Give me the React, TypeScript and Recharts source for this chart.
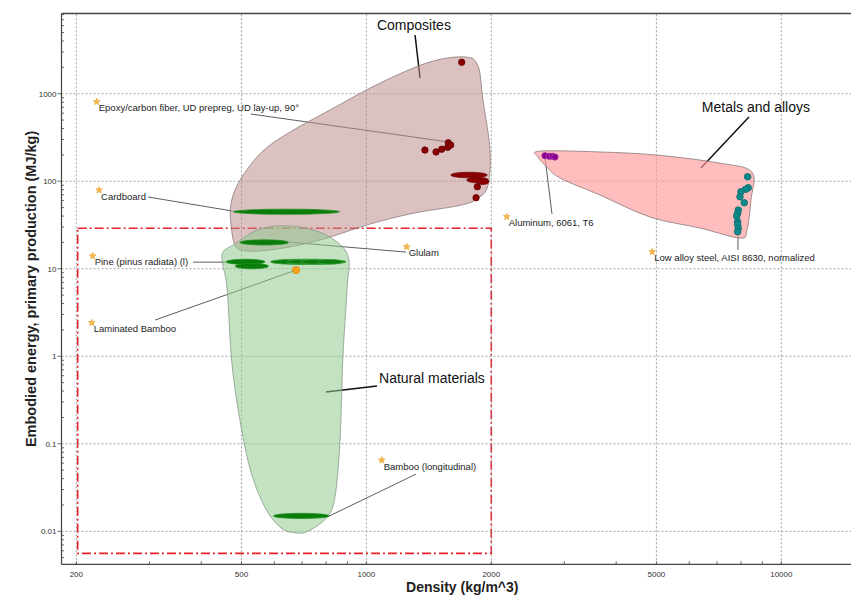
import React from 'react';
import { ScatterChart, Scatter, XAxis, YAxis, ReferenceLine, ReferenceArea } from 'recharts';

// axes
const xDomain = [184.2, 14720];
const yDomain = [0.0042, 8250];
const xMajorTicks = [200, 500, 1000, 2000, 5000, 10000];
const xMinorTicks = [300, 400, 600, 700, 800, 900, 3000, 4000, 6000, 7000, 8000, 9000];
const yMajorTicks = [0.01, 0.1, 1, 10, 100, 1000];
const yDecades = [0.001, 0.01, 0.1, 1, 10, 100, 1000];
const yMultipliers = [2, 3, 4, 5, 6, 7, 8, 9];

// material family envelopes (density kg/m^3, embodied energy MJ/kg)
const compositesEnvelope = [
  { x: 1729, y: 2627 }, { x: 1858, y: 2073 }, { x: 1910, y: 847 }, { x: 1986, y: 227 },
  { x: 1964, y: 90 }, { x: 1858, y: 64 }, { x: 1681, y: 53 }, { x: 1295, y: 43 },
  { x: 1020, y: 32.4 }, { x: 817, y: 23 }, { x: 692, y: 18.7 }, { x: 586, y: 16.4 },
  { x: 524, y: 15.9 }, { x: 485, y: 17.7 }, { x: 472, y: 31.6 }, { x: 472, y: 56 },
  { x: 496, y: 103 }, { x: 560, y: 216 }, { x: 655, y: 365 }, { x: 817, y: 651 },
  { x: 1079, y: 1325 }, { x: 1423, y: 2303 },
];
const metalsEnvelope = [
  { x: 2620, y: 221 }, { x: 3655, y: 216 }, { x: 5015, y: 199 }, { x: 7114, y: 161 },
  { x: 8496, y: 127 }, { x: 8449, y: 61 }, { x: 8264, y: 27.7 }, { x: 7949, y: 22.4 },
  { x: 6367, y: 29.2 }, { x: 4825, y: 39 }, { x: 3655, y: 69.6 }, { x: 2928, y: 109 },
  { x: 2694, y: 153 }, { x: 2592, y: 189 },
];
const naturalEnvelope = [
  { x: 451, y: 15.5 }, { x: 482, y: 19.2 }, { x: 539, y: 27 }, { x: 609, y: 30.8 },
  { x: 711, y: 29.2 }, { x: 817, y: 23 }, { x: 903, y: 14 }, { x: 898, y: 5.71 },
  { x: 878, y: 0.979 }, { x: 864, y: 0.11 }, { x: 840, y: 0.0246 }, { x: 804, y: 0.0145 },
  { x: 731, y: 0.0103 }, { x: 681, y: 0.00954 }, { x: 619, y: 0.0112 }, { x: 563, y: 0.021 },
  { x: 516, y: 0.0705 }, { x: 477, y: 0.643 }, { x: 462, y: 5.71 }, { x: 451, y: 11 },
];

// range bubbles: low/high density at one energy value
const naturalRanges = [
  { lo: 478, hi: 861, y: 44.8 },
  { lo: 496, hi: 649, y: 20 },
  { lo: 459, hi: 570, y: 12 },
  { lo: 483, hi: 581, y: 10.7 },
  { lo: 588, hi: 893, y: 12 },
  { lo: 597, hi: 814, y: 0.015 },
];
const pineChainRanges = [
  { lo: 588, hi: 773, y: 12 },
  { lo: 643, hi: 787, y: 12 },
  { lo: 692, hi: 832, y: 12 },
  { lo: 759, hi: 880, y: 12 },
];
const compositeRanges = [
  { lo: 1597, hi: 1956, y: 117.7 },
  { lo: 1745, hi: 1967, y: 103.2 },
  { lo: 1848, hi: 1975, y: 98.7 },
];

// individual records
const compositePoints = [
  { x: 1384, y: 227 }, { x: 1472, y: 216 }, { x: 1519, y: 232 }, { x: 1570, y: 244 },
  { x: 1575, y: 275 }, { x: 1597, y: 259 }, { x: 1697, y: 2285 }, { x: 1851, y: 86.5 },
  { x: 1838, y: 64.8 },
];
const aluminumPoints = [
  { x: 2694, y: 195.6 }, { x: 2759, y: 192.6 }, { x: 2806, y: 192.6 }, { x: 2848, y: 189 },
];
const steelPoints = [
  { x: 8296, y: 112.5 }, { x: 8324, y: 84.3 }, { x: 8204, y: 80.8 }, { x: 7993, y: 75.9 },
  { x: 7949, y: 66.5 }, { x: 8140, y: 56.8 }, { x: 7874, y: 46.9 }, { x: 7848, y: 43 },
  { x: 7805, y: 40 }, { x: 7848, y: 34.4 }, { x: 7848, y: 32.2 }, { x: 7874, y: 29 },
  { x: 7848, y: 26.5 },
];
const highlightPoints = [{ x: 677, y: 9.66 }];

// labels
const annotations = [
  { name: 'Epoxy/carbon fiber, UD prepreg, UD lay-up, 90°', x: 224, y: 810 },
  { name: 'Cardboard', x: 226.9, y: 79.3 },
  { name: 'Pine (pinus radiata) (l)', x: 219, y: 14 },
  { name: 'Laminated Bamboo', x: 217.8, y: 2.415 },
  { name: 'Glulam', x: 1251, y: 17.8 },
  { name: 'Aluminum, 6061, T6', x: 2179, y: 39.3 },
  { name: 'Low alloy steel, AISI 8630, normalized', x: 4887, y: 15.6 },
  { name: 'Bamboo (longitudinal)', x: 1089, y: 0.0651 },
];
const annotationLeaders = [
  [{ x: 527, y: 586 }, { x: 1561, y: 282.8 }],
  [{ x: 297.8, y: 66 }, { x: 477, y: 45.6 }],
  [{ x: 382, y: 11.9 }, { x: 459, y: 11.9 }],
  [{ x: 309.6, y: 2.593 }, { x: 677, y: 9.66 }],
  [{ x: 647, y: 20.2 }, { x: 1246, y: 15.5 }],
  [{ x: 2694, y: 189 }, { x: 2801, y: 42.2 }],
  [{ x: 7861, y: 27.7 }, { x: 7861, y: 16.4 }],
  [{ x: 812.5, y: 0.0149 }, { x: 1317, y: 0.045 }],
];
const groupLabels = [
  { name: 'Composites', x: 1302, y: 6098 },
  { name: 'Metals and alloys', x: 8686, y: 704.7 },
  { name: 'Natural materials', x: 1439, y: 0.5636 },
];
const groupLeaders = [
  [{ x: 1310, y: 4688 }, { x: 1347, y: 1511 }],
  [{ x: 8356, y: 541.6 }, { x: 6402, y: 141.5 }],
  [{ x: 1061, y: 0.4564 }, { x: 799, y: 0.3898 }],
];

// screening box
const screenBox = { x1: 201.5, x2: 2000, y1: 0.0056, y2: 29 };

const font = "'Liberation Sans', Arial, sans-serif";

const yMinorTicks = yDecades
  .flatMap((d) => yMultipliers.map((m) => +(d * m).toPrecision(3)))
  .filter((v) => v > yDomain[0] && v < yDomain[1]);

const toPairs = (ranges: { lo: number; hi: number; y: number }[]) =>
  ranges.flatMap((r) => [{ x: r.lo, y: r.y }, { x: r.hi, y: r.y }]);

const closedCurve = (pts: { x: number; y: number }[]) => {
  const n = pts.length;
  let d = `M${pts[0].x},${pts[0].y}`;
  for (let i = 0; i < n; i++) {
    const p0 = pts[(i - 1 + n) % n];
    const p1 = pts[i];
    const p2 = pts[(i + 1) % n];
    const p3 = pts[(i + 2) % n];
    const c1x = p1.x + (p2.x - p0.x) / 6;
    const c1y = p1.y + (p2.y - p0.y) / 6;
    const c2x = p2.x - (p3.x - p1.x) / 6;
    const c2y = p2.y - (p3.y - p1.y) / 6;
    d += ` C${c1x},${c1y} ${c2x},${c2y} ${p2.x},${p2.y}`;
  }
  return d + 'Z';
};

const envelopeLine = (fill: string, opacity: number, stroke: string) => (props: any) => (
  <path d={closedCurve(props.points)} fill={fill} fillOpacity={opacity} stroke={stroke} strokeWidth={0.8} />
);

const rangeLine = (fill: string, stroke: string, ry: number) => (props: any) => {
  const pts = props.points;
  const out = [];
  for (let i = 0; i + 1 < pts.length; i += 2) {
    const a = pts[i];
    const b = pts[i + 1];
    out.push(
      <ellipse
        key={i}
        cx={(a.x + b.x) / 2}
        cy={(a.y + b.y) / 2}
        rx={Math.abs(b.x - a.x) / 2}
        ry={ry}
        fill={fill}
        stroke={stroke}
        strokeWidth={0.7}
      />
    );
  }
  return <g>{out}</g>;
};

const noShape = () => <g />;

const dotShape = (fill: string, stroke: string, r: number) => (props: any) => (
  <circle cx={props.cx} cy={props.cy} r={r} fill={fill} stroke={stroke} strokeWidth={0.8} />
);

const starPath = (cx: number, cy: number, r: number) => {
  const pts = [];
  for (let i = 0; i < 10; i++) {
    const rad = i % 2 === 0 ? r : r * 0.45;
    const a = -Math.PI / 2 + (i * Math.PI) / 5;
    pts.push(`${cx + rad * Math.cos(a)},${cy + rad * Math.sin(a)}`);
  }
  return `M${pts.join('L')}Z`;
};

const AnnotationShape = (props: any) => (
  <g>
    <path d={starPath(props.cx, props.cy, 3.6)} fill="#f7b84a" stroke="#e39a25" strokeWidth={0.5} />
    <text x={props.cx + 2} y={props.cy + 9.5} fontSize={9.5} fill="#222" fontFamily={font}>
      {props.payload.name}
    </text>
  </g>
);

const GroupLabelShape = (props: any) => (
  <text x={props.cx} y={props.cy + 5} textAnchor="middle" fontSize={14} fill="#111" fontFamily={font}>
    {props.payload.name}
  </text>
);

const XTick = (props: any) => {
  const { x, y, payload } = props;
  const major = xMajorTicks.includes(payload.value);
  return (
    <g>
      <line x1={x} x2={x} y1={y} y2={y - 3} stroke="#444" strokeWidth={0.8} />
      {major && (
        <text x={x} y={y + 13} textAnchor="middle" fontSize={8} fill="#333" fontFamily={font}>
          {payload.value}
        </text>
      )}
    </g>
  );
};

const YTick = (props: any) => {
  const { x, y, payload } = props;
  const major = yMajorTicks.includes(payload.value);
  return (
    <g>
      {major ? (
        <>
          <line x1={x - 4} x2={x} y1={y} y2={y} stroke="#444" strokeWidth={0.8} />
          <text x={x - 5} y={y + 3} textAnchor="end" fontSize={8} fill="#333" fontFamily={font}>
            {payload.value}
          </text>
        </>
      ) : (
        <line x1={x} x2={x + 2.5} y1={y} y2={y} stroke="#444" strokeWidth={0.8} />
      )}
    </g>
  );
};

const XTitle = (props: any) => {
  const vb = props.viewBox;
  return (
    <text x={vb.x + vb.width / 2 + 6} y={vb.y + 27.4} textAnchor="middle" fontSize={14} fontWeight="bold" fill="#222" fontFamily={font}>
      Density (kg/m^3)
    </text>
  );
};

const YTitle = (props: any) => {
  const vb = props.viewBox;
  const cx = vb.x + 36.5;
  const cy = vb.y + vb.height / 2;
  return (
    <text x={cx} y={cy} transform={`rotate(-90 ${cx} ${cy})`} textAnchor="middle" fontSize={14.5} fontWeight="bold" fill="#222" fontFamily={font}>
      Embodied energy, primary production (MJ/kg)
    </text>
  );
};

const grid = { stroke: '#8c8c8c', strokeDasharray: '2 2', strokeWidth: 0.8 };

export default function App() {
  return (
    <div style={{ position: 'absolute', left: 0, top: 0, background: '#fff' }}>
      <ScatterChart width={851} height={595} margin={{ top: 13.5, right: 0, bottom: 0, left: 0 }}>
        <XAxis
          type="number"
          dataKey="x"
          scale="log"
          domain={xDomain}
          allowDataOverflow
          ticks={[...xMajorTicks, ...xMinorTicks]}
          interval={0}
          tick={<XTick />}
          tickLine={false}
          tickSize={0}
          tickMargin={0}
          height={30.7}
          axisLine={{ stroke: '#444', strokeWidth: 1.2 }}
          label={{ content: <XTitle /> }}
        />
        <YAxis
          type="number"
          dataKey="y"
          scale="log"
          domain={yDomain}
          allowDataOverflow
          ticks={[...yMajorTicks, ...yMinorTicks]}
          interval={0}
          tick={<YTick />}
          tickLine={false}
          tickSize={0}
          tickMargin={0}
          width={61.5}
          axisLine={{ stroke: '#444', strokeWidth: 1.2 }}
          label={{ content: <YTitle /> }}
        />
        {xMajorTicks.map((v) => (
          <ReferenceLine key={`gx${v}`} x={v} {...grid} />
        ))}
        {yMajorTicks.map((v) => (
          <ReferenceLine key={`gy${v}`} y={v} {...grid} />
        ))}
        <ReferenceLine y={yDomain[1]} stroke="#444" strokeWidth={1.4} ifOverflow="visible" />

        <Scatter data={compositesEnvelope} shape={noShape} line={envelopeLine('#c08e8e', 0.55, '#8c7a7a')} isAnimationActive={false} />
        <Scatter data={metalsEnvelope} shape={noShape} line={envelopeLine('#ff9a9a', 0.65, '#8c7a7a')} isAnimationActive={false} />
        <Scatter data={naturalEnvelope} shape={noShape} line={envelopeLine('#8fca8f', 0.55, '#8a9a8a')} isAnimationActive={false} />

        <ReferenceArea
          x1={screenBox.x1}
          x2={screenBox.x2}
          y1={screenBox.y1}
          y2={screenBox.y2}
          fill="none"
          fillOpacity={0}
          stroke="#e8202a"
          strokeWidth={1.6}
          strokeDasharray="9 3 2 3"
        />

        <Scatter data={toPairs(naturalRanges)} shape={noShape} line={rangeLine('#0a7d0a', '#1f8f1f', 2.6)} isAnimationActive={false} />
        <Scatter data={toPairs(pineChainRanges)} shape={noShape} line={rangeLine('#0a7d0a', '#47a847', 2.4)} isAnimationActive={false} />
        <Scatter data={toPairs(compositeRanges)} shape={noShape} line={rangeLine('#8b0000', '#6a0000', 2.8)} isAnimationActive={false} />

        {annotationLeaders.map((seg, i) => (
          <ReferenceLine key={`al${i}`} segment={seg} stroke="#333" strokeWidth={0.8} />
        ))}
        {groupLeaders.map((seg, i) => (
          <ReferenceLine key={`gl${i}`} segment={seg} stroke="#111" strokeWidth={1.5} />
        ))}

        <Scatter data={compositePoints} shape={dotShape('#8b0000', '#5e0000', 3.2)} isAnimationActive={false} />
        <Scatter data={aluminumPoints} shape={dotShape('#8b008b', '#b040b0', 3.2)} isAnimationActive={false} />
        <Scatter data={steelPoints} shape={dotShape('#0f8a8a', '#0a6c6c', 3.3)} isAnimationActive={false} />
        <Scatter data={highlightPoints} shape={dotShape('#f6a21e', '#d98a12', 3.6)} isAnimationActive={false} />

        <Scatter data={annotations} shape={AnnotationShape} isAnimationActive={false} />
        <Scatter data={groupLabels} shape={GroupLabelShape} isAnimationActive={false} />
      </ScatterChart>
    </div>
  );
}
